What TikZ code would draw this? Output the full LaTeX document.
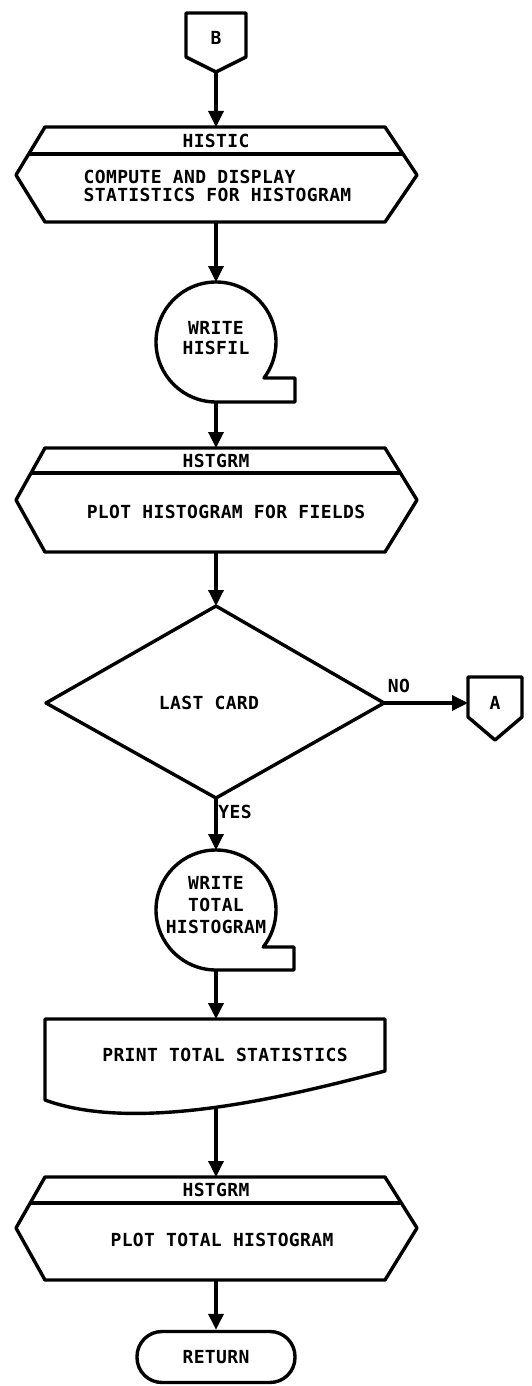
\documentclass[tikz,border=0pt]{standalone}
\usepackage{fontspec}
\newfontfamily\flow{DejaVu Sans Mono}[LetterSpace=2]
\usetikzlibrary{arrows.meta,calc}
\begin{document}
\begin{tikzpicture}[x=1pt,y=-1pt,line width=3.4pt,line join=round,
  arr/.style={-{Triangle[width=15pt,length=16pt]}},
  lbl/.style={font=\flow\bfseries\fontsize{18}{18}\selectfont,inner sep=0pt,align=center}]
\useasboundingbox (0,0) rectangle (532,1386);
% connector B
\draw (186,13) -- (246,13) -- (246,57) -- (216,72) -- (186,57) -- cycle;
\node[lbl] (B) at (216,38) {B};
\coordinate (Bbot) at (216,72);
% HISTIC predefined process (hexagon with header)
\draw (45,127) -- (385,127) -- (417,175) -- (385,222) -- (45,222) -- (16,175) -- cycle;
\draw ($(45,127)!0.5625!(16,175)$) -- ($(385,127)!0.5625!(417,175)$);
\coordinate (h1top) at (216,127);
\coordinate (h1bot) at (216,222);
\node[lbl] (h1head) at (216,141) {HISTIC};
\node[lbl,anchor=west,align=left] (h1body) at (82,186) {COMPUTE AND DISPLAY\\STATISTICS FOR HISTOGRAM};
% tape 1
\draw (216,402) arc[start angle=90,end angle=396.87,radius=60] -- (295,378) -- (295,402) -- cycle;
\coordinate (c1top) at (216,282);
\coordinate (c1bot) at (216,402);
\node[lbl,font=\flow\bfseries\fontsize{18}{20}\selectfont] (c1) at (216,338) {WRITE\\HISFIL};
% HSTGRM 1
\draw (45,448) -- (385,448) -- (417,500) -- (385,552) -- (45,552) -- (16,500) -- cycle;
\draw ($(45,448)!0.48!(16,500)$) -- ($(385,448)!0.48!(417,500)$);
\coordinate (h2top) at (216,448);
\coordinate (h2bot) at (216,552);
\node[lbl] (h2head) at (216,461) {HSTGRM};
\node[lbl] (h2body) at (226,512) {PLOT HISTOGRAM FOR FIELDS};
% decision
\draw (216,606) -- (384,703) -- (216,798) -- (46,703) -- cycle;
\coordinate (dtop) at (216,606);
\coordinate (dright) at (384,703);
\coordinate (dbot) at (216,798);
\node[lbl] (dec) at (209,703) {LAST CARD};
\node[lbl] (no) at (399,686) {NO};
\node[lbl] (yes) at (235,812) {YES};
% connector A
\draw (468,677) -- (522,677) -- (522,717) -- (495,740) -- (468,717) -- cycle;
\node[lbl] (A) at (495,703) {A};
\coordinate (Aleft) at (468,703);
% tape 2
\draw (216,970) arc[start angle=90,end angle=398.07,radius=60] -- (294,947) -- (294,970) -- cycle;
\coordinate (c2top) at (216,850);
\coordinate (c2bot) at (216,970);
\node[lbl,font=\flow\bfseries\fontsize{18}{22}\selectfont] (c2) at (216,905) {WRITE\\TOTAL\\HISTOGRAM};
% document
\draw (45,1019) -- (385,1019) -- (385,1071) .. controls (300,1093) and (140,1135) .. (45,1100) -- cycle;
\coordinate (doctop) at (216,1019);
\coordinate (docbot) at (216,1107);
\node[lbl] (doc) at (225,1055) {PRINT TOTAL STATISTICS};
% HSTGRM 2
\draw (45,1177) -- (385,1177) -- (417,1228) -- (385,1280) -- (45,1280) -- (16,1228) -- cycle;
\draw ($(45,1177)!0.51!(16,1228)$) -- ($(385,1177)!0.51!(417,1228)$);
\coordinate (h3top) at (216,1177);
\coordinate (h3bot) at (216,1280);
\node[lbl] (h3head) at (216,1190) {HSTGRM};
\node[lbl] (h3body) at (222,1240) {PLOT TOTAL HISTOGRAM};
% terminator
\node[lbl,draw,rounded corners=25pt,minimum width=158pt,minimum height=51pt] (ret) at (216,1357) {RETURN};
% connectors
\draw[arr] (Bbot) -- (h1top);
\draw[arr] (h1bot) -- (c1top);
\draw[arr] (c1bot) -- (h2top);
\draw[arr] (h2bot) -- (dtop);
\draw[arr] (dright) -- (Aleft);
\draw[arr] (dbot) -- (c2top);
\draw[arr] (c2bot) -- (doctop);
\draw[arr] (docbot) -- (h3top);
\draw[arr] (h3bot) -- (ret.north);
\end{tikzpicture}
\end{document}
